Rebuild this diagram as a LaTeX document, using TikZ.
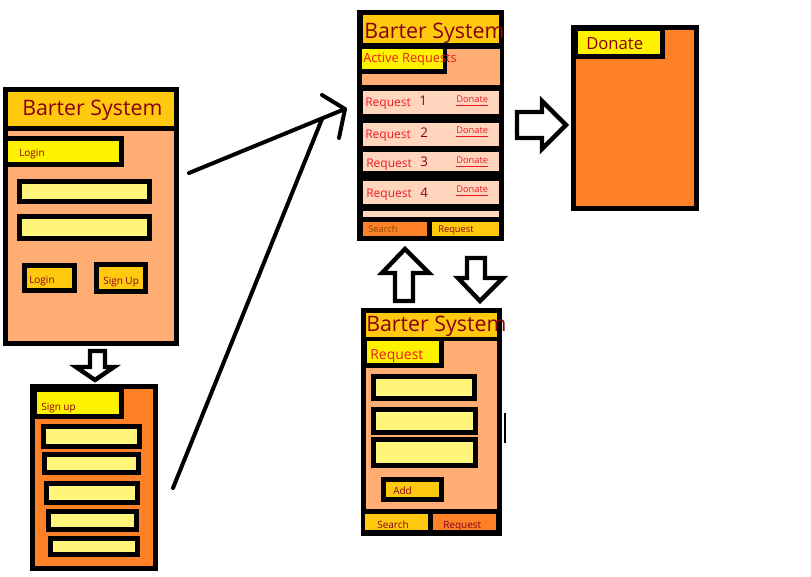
\documentclass[tikz,border=0pt]{standalone}
\usepackage{fontspec}
\setmainfont{Open Sans}
\usepackage{tikz}
\definecolor{gold}{HTML}{FFC90E}
\definecolor{peach}{HTML}{FFAD72}
\definecolor{orangefill}{HTML}{FF8127}
\definecolor{labelyellow}{HTML}{FFF200}
\definecolor{fieldyellow}{HTML}{FFF57A}
\definecolor{rowpeach}{HTML}{FFD6BD}
\definecolor{darkred}{HTML}{880015}
\definecolor{brightred}{HTML}{ED1C24}
\definecolor{searchtext}{HTML}{8A4A00}

\tikzset{
  frame/.style={draw=black, line width=3.75pt},
  field/.style={frame, fill=fieldyellow},
  blockarrow/.style={draw=black, line width=3.3pt, fill=white, line join=miter},
  pen/.style={line width=3pt, line cap=round, line join=round},
  txt/.style={inner sep=0pt, anchor=base west},
  title/.style={txt, text=darkred, font=\fontsize{16}{19}\selectfont},
  tiny/.style={txt, text=darkred, font=\fontsize{7.5}{9}\selectfont},
  rowtxt/.style={txt, text=brightred, font=\fontsize{9}{11}\selectfont},
  hand/.style={txt, text=darkred, font=\fontsize{10}{12}\selectfont},
  link/.style={txt, text=brightred, font=\fontsize{7}{8}\selectfont}
}

\begin{document}
\begin{tikzpicture}[x=0.75pt, y=-0.75pt]
\useasboundingbox (0,0) rectangle (811,577);

\draw[frame, fill=peach] (5.5,89.5) rectangle (176.5,343.5);
\draw[frame, fill=gold] (5.5,89.5) rectangle (176.5,128.5);
\node[title] (logintitle) at (22,116) {Barter System};
\draw[frame, fill=labelyellow] (5.5,138.5) rectangle (121.5,164.5);
\node[tiny] (loginlabel) at (19,157) {Login};
\draw[field] (19.5,181.5) rectangle (149.5,201.5);
\draw[field] (19.5,216.5) rectangle (149.5,238.5);
\draw[frame, fill=gold] (24.5,265.5) rectangle (74.5,290.5);
\node[tiny] (loginbtn) at (29,284) {Login};
\draw[frame, fill=gold] (96.5,264.5) rectangle (145.5,291.5);
\node[tiny] (signupbtn) at (103,285) {Sign Up};

\draw[blockarrow] (90,351) -- (105,351) -- (105,367) -- (114,367) -- (95,380)
  -- (76,367) -- (90,367) -- cycle;

\draw[frame, fill=orangefill] (32.5,386.5) rectangle (155.5,568.5);
\draw[frame, fill=labelyellow] (34.5,389.5) rectangle (121.5,416.5);
\node[tiny] (signuplabel) at (41,411) {Sign up};
\draw[field] (43.5,426.5) rectangle (139.5,446.5);
\draw[field] (44.5,454.5) rectangle (138.5,472.5);
\draw[field] (46.5,483.5) rectangle (137.5,502.5);
\draw[field] (48.5,511.5) rectangle (136.5,529.5);
\draw[field] (50.5,538.5) rectangle (137.5,554.5);

\coordinate (loginout) at (189,173);
\coordinate (signupout) at (173,488);
\coordinate (mainin) at (345,109);
\coordinate (meet) at (322,119);
\draw[pen] (loginout) -- (mainin);
\draw[pen] (signupout) -- (meet);
\draw[pen] (322,95) -- (mainin) -- (339,138);

\fill[black] (357,10) rectangle (504,241);
\fill[gold] (363,15) rectangle (499,43);
\node[title] (maintitle) at (364,39) {Barter System};
\fill[peach] (362,49) rectangle (500,85);
\fill[black] (362,49) rectangle (447,74);
\fill[labelyellow] (362,49) rectangle (443,69);
\node[rowtxt, font=\fontsize{9.6}{11}\selectfont] (activelabel) at (363,63) {Active Requests};
\fill[rowpeach] (363,91) rectangle (499,114);
\fill[rowpeach] (363,123) rectangle (499,146);
\fill[rowpeach] (363,152) rectangle (499,171);
\fill[rowpeach] (363,181) rectangle (499,204);
\fill[rowpeach] (363,211) rectangle (499,217);
\node[rowtxt] (reqa) at (365,107) {Request};
\node[rowtxt] (reqb) at (365,139) {Request};
\node[rowtxt] (reqc) at (366,168) {Request};
\node[rowtxt] (reqd) at (366,198) {Request};
\node[hand] (numa) at (419,106) {1};
\node[hand] (numb) at (420,138) {2};
\node[hand] (numc) at (420,167) {3};
\node[hand] (numd) at (420,198) {4};
\node[link] (dona) at (456,103) {\underline{Donate}};
\node[link] (donb) at (456,134) {\underline{Donate}};
\node[link] (donc) at (456,164) {\underline{Donate}};
\node[link] (dond) at (456,193) {\underline{Donate}};
\fill[orangefill] (363,222) rectangle (427,236);
\fill[gold] (432,222) rectangle (499,236);
\node[tiny, text=searchtext, font=\fontsize{7}{8}\selectfont] (mainsearch) at (368,233) {Search};
\node[tiny, font=\fontsize{7}{8}\selectfont] (mainrequest) at (438,233) {Request};

\draw[blockarrow] (517,112) -- (542,112) -- (542,101) -- (566,125) -- (542,149)
  -- (542,138) -- (517,138) -- cycle;

\draw[frame, fill=orangefill] (573.5,27.5) rectangle (696.5,208.5);
\draw[frame, fill=labelyellow] (575.5,28.5) rectangle (662.5,56.5);
\node[txt, text=darkred, font=\fontsize{12.5}{15}\selectfont] (donatetitle) at (586,50) {Donate};

\draw[blockarrow] (405,249) -- (429,273) -- (413,273) -- (413,301) -- (395,301)
  -- (395,273) -- (382,273) -- cycle;
\draw[blockarrow] (467,258) -- (485,258) -- (485,278) -- (503,278) -- (480,301)
  -- (458,278) -- (467,278) -- cycle;

\fill[black] (361,308) rectangle (502,536);
\fill[gold] (366,313) rectangle (497,337);
\node[title] (reqtitle) at (366,332) {Barter System};
\fill[peach] (366,341) rectangle (497,509);
\fill[black] (366,341) rectangle (444,368);
\fill[labelyellow] (367,341) rectangle (439,363);
\node[txt, text=brightred, font=\fontsize{10.5}{12}\selectfont] (reqlabel) at (370,360) {Request};
\draw[field] (373.5,376.5) rectangle (474.5,398.5);
\draw[field] (373.5,409.5) rectangle (475.5,432.5);
\draw[field] (373.5,439.5) rectangle (475.5,465.5);
\draw[frame, fill=gold] (383.5,479.5) rectangle (441.5,499.5);
\node[tiny] (addbtn) at (393,494) {Add};
\fill[gold] (365,514) rectangle (428,530);
\fill[orangefill] (433,514) rectangle (496,530);
\node[tiny] (reqsearch) at (377,528) {Search};
\node[tiny] (reqrequest) at (443,528) {Request};
\draw[line width=1.2pt] (505,413) -- (505,443);
\end{tikzpicture}
\end{document}
